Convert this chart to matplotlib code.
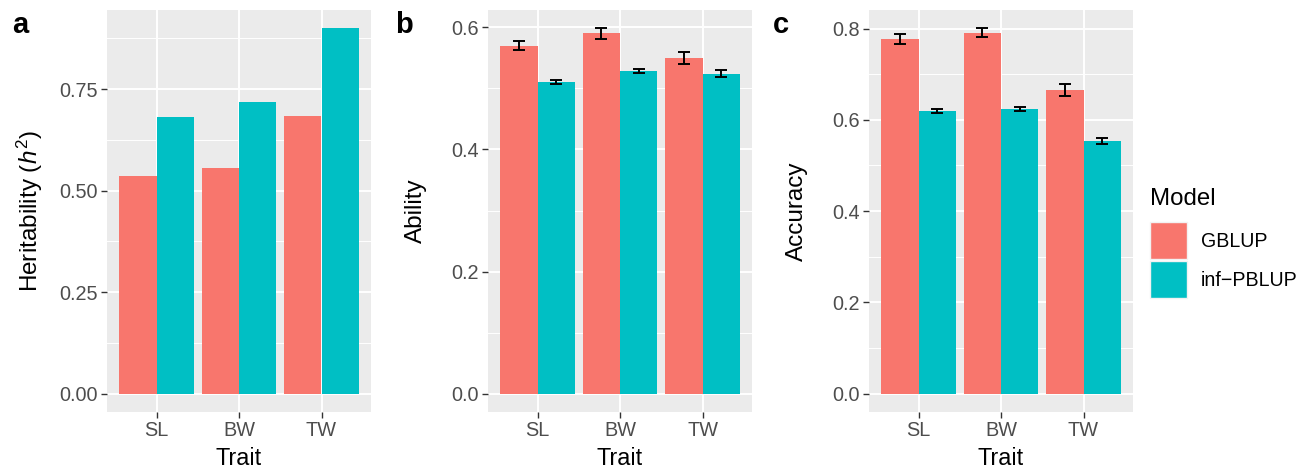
import numpy as np
import matplotlib
matplotlib.use("Agg")
import matplotlib.pyplot as plt
from matplotlib.patches import Rectangle
from matplotlib.ticker import FixedLocator

plt.rcParams['font.family'] = ['Liberation Sans', 'DejaVu Sans']
plt.rcParams['mathtext.fontset'] = 'custom'
plt.rcParams['mathtext.rm'] = 'Liberation Sans'
plt.rcParams['mathtext.it'] = 'Liberation Sans:italic'

# ---- data ----
traits = ["SL", "BW", "TW"]
models = ["GBLUP", "inf\u2212PBLUP"]
colors = ["#F8766D", "#00BFC4"]

herit_gblup = [0.537, 0.557, 0.684]
herit_inf = [0.682, 0.719, 0.900]

ability_gblup = [0.570, 0.590, 0.550]
ability_gblup_se = [0.0075, 0.0085, 0.010]
ability_inf = [0.511, 0.529, 0.524]
ability_inf_se = [0.003, 0.0035, 0.006]

accuracy_gblup = [0.778, 0.791, 0.665]
accuracy_gblup_se = [0.011, 0.0095, 0.0125]
accuracy_inf = [0.620, 0.624, 0.554]
accuracy_inf_se = [0.0045, 0.004, 0.0065]

herit_ticks = [0.0, 0.25, 0.5, 0.75]
herit_ticklabels = ["0.00", "0.25", "0.50", "0.75"]
ability_ticks = [0.0, 0.2, 0.4, 0.6]
ability_ticklabels = ["0.0", "0.2", "0.4", "0.6"]
accuracy_ticks = [0.0, 0.2, 0.4, 0.6, 0.8]
accuracy_ticklabels = ["0.0", "0.2", "0.4", "0.6", "0.8"]

W, H = 1314, 472
fig = plt.figure(figsize=(W / 100, H / 100), dpi=100)

panel_left_px = [107, 488, 869]
panel_w_px = 264
panel_top_px, panel_bot_px = 10, 412

BG = "#EBEBEB"
TICKCOL = "#4D4D4D"

def make_panel(i, g, inf, g_se, inf_se, ticks, ticklabels, ylabel, letter, letter_x):
    left = panel_left_px[i] / W
    bottom = 1 - panel_bot_px / H
    height = (panel_bot_px - panel_top_px) / H
    ax = fig.add_axes([left, bottom, panel_w_px / W, height])
    ax.set_facecolor(BG)
    for s in ax.spines.values():
        s.set_visible(False)
    x = np.arange(len(traits))
    bw = 0.45
    ax.bar(x - bw / 2, g, width=bw, color=colors[0], zorder=3, linewidth=0)
    ax.bar(x + bw / 2, inf, width=bw, color=colors[1], zorder=3, linewidth=0)
    top = max(g) if g_se is None else max(np.array(g) + np.array(g_se))
    top = max(top, max(inf) if inf_se is None else max(np.array(inf) + np.array(inf_se)))
    if g_se is not None:
        ax.errorbar(x - bw / 2, g, yerr=g_se, fmt='none', ecolor='black',
                    elinewidth=1.4, capsize=4.5, capthick=1.4, zorder=4)
        ax.errorbar(x + bw / 2, inf, yerr=inf_se, fmt='none', ecolor='black',
                    elinewidth=1.4, capsize=4.5, capthick=1.4, zorder=4)
    ax.set_xlim(-0.6, len(traits) - 0.4)
    ax.set_ylim(-0.05 * top, top * 1.05)
    ax.set_xticks(x)
    ax.set_xticklabels(traits)
    ax.yaxis.set_major_locator(FixedLocator(ticks))
    ax.set_yticklabels(ticklabels)
    minor = [(a + b) / 2 for a, b in zip(ticks[:-1], ticks[1:])]
    step = ticks[1] - ticks[0]
    if ticks[-1] + step / 2 < top * 1.05:
        minor.append(ticks[-1] + step / 2)
    ax.yaxis.set_minor_locator(FixedLocator(minor))
    ax.grid(which='major', color='white', linewidth=1.4, zorder=0)
    ax.grid(which='minor', axis='y', color='white', linewidth=0.7, zorder=0)
    ax.set_axisbelow(True)
    ax.tick_params(which='major', direction='out', length=4.3, width=1.0,
                   color='#333333', labelcolor=TICKCOL, labelsize=14.3, pad=2.5)
    ax.tick_params(which='minor', length=0)
    ax.set_xlabel("Trait", fontsize=16.8, color='black')
    ax.xaxis.set_label_coords(0.5, -0.088)
    ax.set_ylabel(ylabel, fontsize=17.5, color='black')
    ax.yaxis.set_label_coords(-0.233, 0.5)
    fig.text(letter_x / W, 1 - 33 / H, letter, fontsize=21, fontweight='bold',
             va='baseline', ha='left')
    return ax

make_panel(0, herit_gblup, herit_inf, None, None, herit_ticks, herit_ticklabels,
           "Heritability ($h^2$)", "a", 12)
make_panel(1, ability_gblup, ability_inf, ability_gblup_se, ability_inf_se,
           ability_ticks, ability_ticklabels, "Ability", "b", 395)
make_panel(2, accuracy_gblup, accuracy_inf, accuracy_gblup_se, accuracy_inf_se,
           accuracy_ticks, accuracy_ticklabels, "Accuracy", "c", 773)

# ---- legend (ggplot style) ----
fig.text(1150 / W, 1 - 205 / H, "Model", fontsize=17.3, ha='left', va='baseline')
key_x, key_w, key_h = 1150, 37, 37
key_tops = [221.5, 260.5]
for c, lab, kt in zip(colors, models, key_tops):
    fig.patches.append(Rectangle((key_x / W, 1 - (kt + key_h) / H), key_w / W, key_h / H,
                                 transform=fig.transFigure, facecolor=c,
                                 edgecolor='#F2F2F2', linewidth=1.0))
    fig.text(1201 / W, 1 - (kt + key_h / 2 + 7) / H, lab, fontsize=14.1,
             ha='left', va='baseline')

fig.savefig("out.png", dpi=100)
